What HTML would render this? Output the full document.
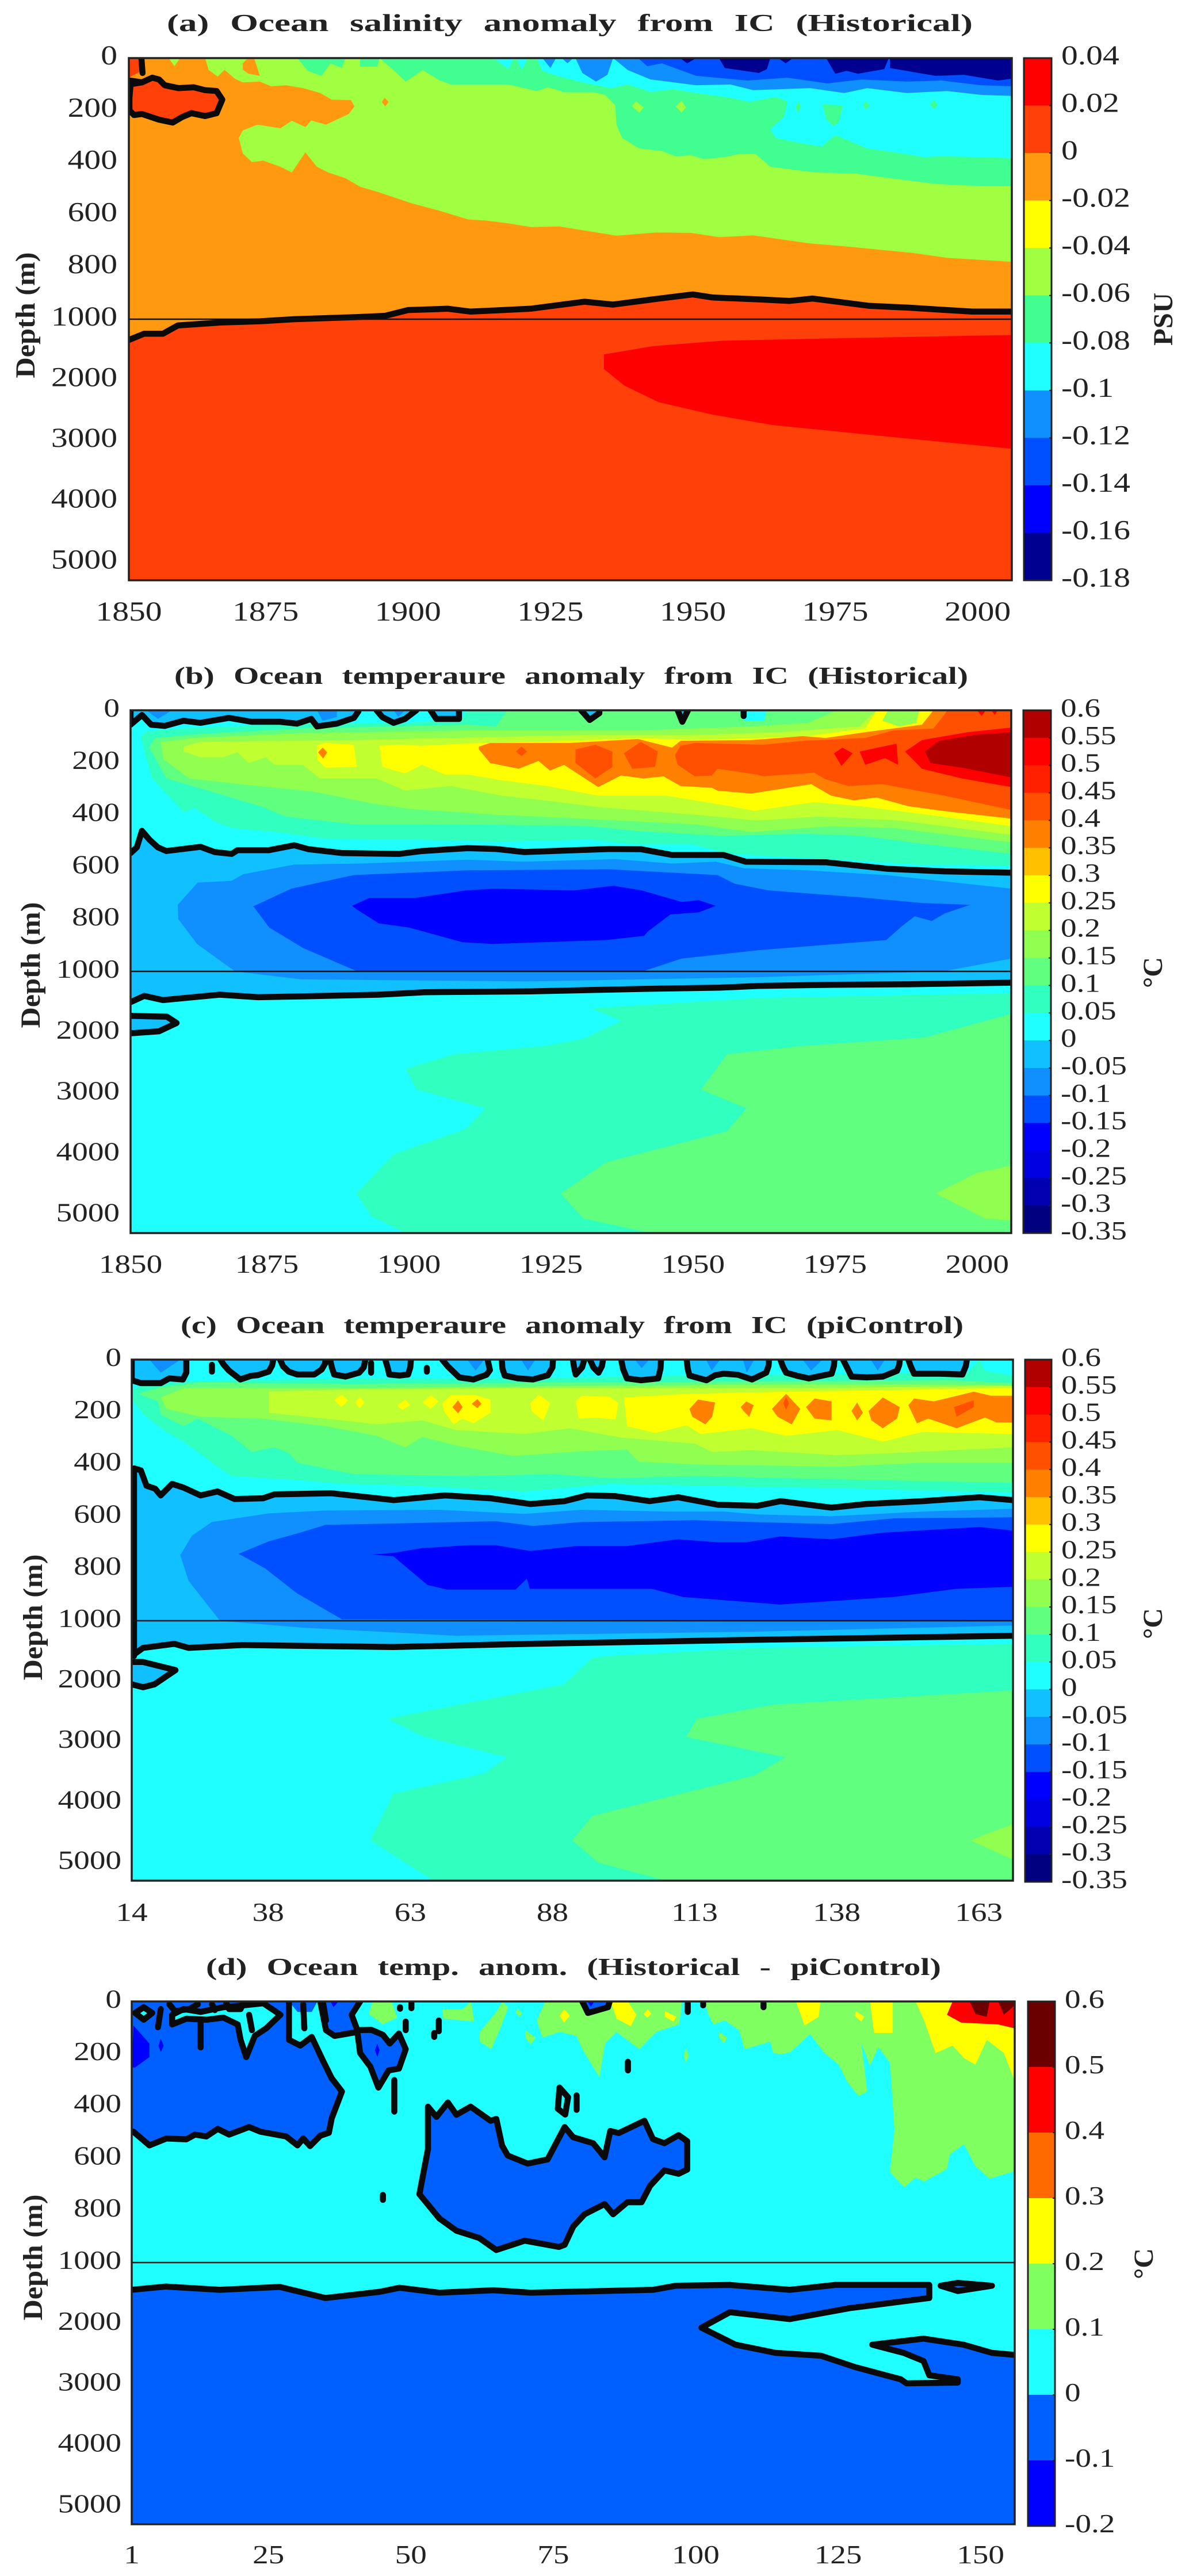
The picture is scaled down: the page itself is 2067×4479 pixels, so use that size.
<!DOCTYPE html>
<html lang="en">
<head>
<meta charset="utf-8">
<title>Ocean salinity and temperature anomaly panels</title>
<style>
html,body{margin:0;padding:0;background:#fff}
svg{display:block}
text{font-family:"Liberation Serif",serif;fill:#222}
.ttl{font-weight:bold;font-size:42px;word-spacing:14px}
.axt{font-weight:bold;font-size:48px}
</style>
</head>
<body>
<svg id="fig" xmlns="http://www.w3.org/2000/svg" width="2067" height="4479" viewBox="0 0 2067 4479">
<text class="ttl" x="290" y="54" textLength="1401" lengthAdjust="spacingAndGlyphs">(a) Ocean salinity anomaly from IC (Historical)</text>
<text class="ttl" x="303" y="1189" textLength="1380" lengthAdjust="spacingAndGlyphs">(b) Ocean temperaure anomaly from IC (Historical)</text>
<text class="ttl" x="314" y="2318" textLength="1361" lengthAdjust="spacingAndGlyphs">(c) Ocean temperaure anomaly from IC (piControl)</text>
<text class="ttl" x="358" y="3434" textLength="1278" lengthAdjust="spacingAndGlyphs">(d) Ocean temp. anom. (Historical - piControl)</text>
<text class="axt" transform="translate(60,548) rotate(-90)" text-anchor="middle" textLength="219" lengthAdjust="spacingAndGlyphs">Depth (m)</text>
<text class="axt" transform="translate(69,1678) rotate(-90)" text-anchor="middle" textLength="219" lengthAdjust="spacingAndGlyphs">Depth (m)</text>
<text class="axt" transform="translate(73,2812) rotate(-90)" text-anchor="middle" textLength="219" lengthAdjust="spacingAndGlyphs">Depth (m)</text>
<text class="axt" transform="translate(73,3925) rotate(-90)" text-anchor="middle" textLength="219" lengthAdjust="spacingAndGlyphs">Depth (m)</text>
<text class="axt" transform="translate(2038,555) rotate(-90)" text-anchor="middle" textLength="92" lengthAdjust="spacingAndGlyphs">PSU</text>
<text class="axt" transform="translate(2020,1691) rotate(-90)" text-anchor="middle">°C</text>
<text class="axt" transform="translate(2020,2823) rotate(-90)" text-anchor="middle">°C</text>
<text class="axt" transform="translate(2004,3936) rotate(-90)" text-anchor="middle">°C</text>
</svg>
<script>
/* ---------- axis tick data ---------- */
const indexTicks = [1,25,50,75,100,125,150];
const yearLabels = ["1850","1875","1900","1925","1950","1975","2000"];
const controlLabels = ["14","38","63","88","113","138","163"];
const diffLabels = ["1","25","50","75","100","125","150"];
const depthTicks = [0,200,400,600,800,1000,2000,3000,4000,5000];
const salinityLevels = [0.04,0.02,0,-0.02,-0.04,-0.06,-0.08,-0.1,-0.12,-0.14,-0.16,-0.18];
const tempLevels = [0.6,0.55,0.5,0.45,0.4,0.35,0.3,0.25,0.2,0.15,0.1,0.05,0,-0.05,-0.1,-0.15,-0.2,-0.25,-0.3,-0.35];
const diffLevels = [0.6,0.5,0.4,0.3,0.2,0.1,0,-0.1,-0.2];

/* ---------- panel (a) contour regions: flat lists of time index, depth (m) ---------- */
const aLime = [14.4,0,15,45,16.6,71,17.8,45,19.6,79,21,93,24,90,26,108,28.6,104,31.6,115,34.6,134,36.6,159,40,161,40.6,185,39.6,214,35.6,255,33,239,32,264,29.6,240,27.6,269,23.6,255,21,277,20.3,306,21,365,22.6,398,24.6,393,27.6,416,29.6,438,32,361,34,416,36,438,39,460,41.6,493,44.6,512,47.6,534,50.6,556,55.6,585,60.6,618,63.6,622,67.6,633,71.6,647,76.6,645,82.6,666,86.6,680,93.6,668,99.6,669,104.6,686,110.6,679,120.6,710,126.6,721,138.6,746,144.6,765,156,780,156,0];
const aLimeWedge = [8,0,9,31,10,0];
const aOrangeTop = [21,20,21,45,22,60,24,68,23,0,21.9,0];
const aOrangeDot = [45.9,152,46.6,168,46,185,45.4,168];
const aGreen = [30.6,0,32.4,49,34.8,68,36.4,20,38.4,38,39,0,41.6,0,41.6,33,44.6,33,45,0,47.6,49,49.6,90,52.6,46,55.6,86,57.6,101,67.6,101,72.6,126,74.6,112,77.6,131,82.6,131,84.6,141,86.4,181,86.6,255,87.6,306,90.6,346,94.6,356,97,376,99.6,372,102,387,105.6,379,108,368,111,367,113.6,416,121.6,438,128.6,442,134.6,460,142.6,482,150.6,490,156,490,156,0];
const aCyan = [72.6,0,73.6,49,76.6,71,80.6,93,85.6,115,88.6,101,92.6,130,96.6,119,100.6,134,106.6,152,110,168,114.6,148,116.6,167,116,225,113.6,273,114.6,306,118.6,324,122.6,339,125,295,130.6,346,135.6,361,140.6,379,143.6,376,150.6,379,156,383,156,0];
const aCyanA = [65,0,67.6,42,68.6,0];
const aCyanB = [69,0,70,46,71,0];
const aLightBlue = [79.4,0,80.6,57,83,90,85,64,86,0,88.6,46,92.6,82,95.6,90,100.6,104,106.6,101,110.6,123,120.6,115,126.6,134,130.6,115,137.6,134,144.6,126,150.6,141,156,145,156,0];
const aLightBlueA = [73.6,0,75,38,76,0];
const aLightBlueB = [77,0,78,20,79,0];
const aBlue = [90.4,0,92,31,94.6,20,100.6,68,109.6,86,116.6,75,123.6,97,129.6,82,137.6,90,143.6,86,150.6,104,156,108,156,0];
const aNavy1 = [97.8,0,99,20,100.6,0];
const aNavy2 = [104.6,0,105.6,38,111.6,57,113,42,113.6,0];
const aNavy3 = [115,0,116.3,20,117.6,0];
const aNavy4 = [123.4,0,125,60,127,49,129,60,133.6,42,134.4,0];
const aNavy5 = [134.6,0,134.6,38,142.6,68,147.6,64,153.6,86,156,79,156,0];
const aLimeSpot1 = [90,165,91.4,189,90.6,209,89.3,185];
const aLimeSpot2 = [98,163,98.8,189,98,209,97,185];
const aGreenSpot1 = [118.6,167,119,189,118.4,209,118,189];
const aGreenSpot2 = [122.8,178,126.4,181,125.6,247,124.6,261,123.4,233];
const aGreenSpot3 = [130.4,163,131,181,130.4,200,129.9,181];
const aGreenSpot4 = [142.3,159,143,178,142.3,196,141.6,178];
const aZeroLine = [1,1342,3.7,1239,7,1239,9.6,1103,17,1055,24,1034,30,1000,41,992,46,987,50,965,57,960,61,971,71.5,960,81,933,86,944,93,924,100,905,103.5,917,111.5,924,117,930,121,921,131,949,138,956,149,971,156,971];
const aDeepRed = [84.4,1581,93,1444,105,1355,125,1314,156,1260,156,3133,138,2968,114,2743,103.5,2572,94,2367,88,2094,84.4,1820];
const aBlob = [1.3,100,3.3,93,5.1,75,6.3,82,7.3,104,9.7,115,12.4,112,14.4,123,16.4,126,17.4,159,16.4,211,14.4,222,12,211,10.4,225,8.7,247,6.3,236,3.3,214,1.9,218,1.1,200,1.1,152];
const aCorner = [1,0,3,0,3.1,50,1,75];
const aStub = [3.2,0,3.4,57];
const aScribble = [1.1,86,3.3,93];

/* ---------- panel (b) ---------- */
const bUpperZero = [1,547,2.1,525,3,462,4.3,495,5.8,525,7.3,539,13.3,523,15.8,543,18.8,550,19.8,536,25.3,536,29.8,517,32.3,532,38.3,547,48.3,550,52.3,539,60.3,528,65.3,531,70.3,543,85.3,531,90.8,532,96.3,554,105.3,554,109.3,580,123.3,582,134.3,607,144.3,617,156,622];
const bLowerZero = [1,1506,3.4,1403,6.7,1472,16.7,1383,23.4,1424,31.4,1410,44.7,1383,52.7,1342,71.4,1328,91.4,1287,104.7,1267,111.4,1239,124.7,1219,138,1212,156,1185];
const bDeepLoop = [1,1731,7.4,1745,9.1,1848,6,1984,1,2018];
const bBand1090 = [9.3,745,12.8,660,18.8,653,20.8,628,29.8,591,41.3,587,60.3,572,70.3,580,86.3,570,96.3,587,104,580,109,605,120,613,134,631,156,683,156,951,144,1000,111,1096,71,1164,31,1130,19.4,1000,12.7,895,9.4,800];
const bBand0050 = [22.5,752,29.3,683,40.3,631,60.3,613,85.3,609,104.3,631,107.3,664,113.3,690,129.3,716,140.3,738,148.8,745,144.3,778,142,807,139,789,136.8,826,134,880,111.4,919,98,951,91.4,998,40.7,998,31.4,911,25.4,832,22.7,753];
const bBand0000 = [40,749,43,719,51,719,60,690,65,683,79,690,86,672,91,690,98,734,101,727,104,749,101,774,96,782,92,848,91.4,864,84.7,880,64.7,895,59.4,888,50,832,44.7,816,40.7,761];
const bSurface1 = [1,0,1,55,3,18,4.6,55,7,60,10.3,40,13.3,48,18.3,29,22.3,44,27.3,44,30.3,51,32.8,33,33.8,62,37.3,51,40.3,29,41.1,4,41.1,0];
const bSurface2 = [44.3,0,45.3,26,47.3,48,49.3,33,51.3,0];
const bSurface3 = [53.8,0,54.8,33,58.8,33,58.8,0];
const bSurface4 = [80.3,0,81.8,37,83.5,11,83.5,0];
const bSurface5 = [97.3,0,98.1,44,99.1,0];
const bStub = [108.9,0,108.9,22];
const bInner1 = [3.8,0,5.8,33,8.3,0];
const bInner2 = [33.8,0,34.8,40,37.3,26,37.3,0];
const bInner3 = [47.3,0,48.1,26,49.3,0];
const bBand30 = [2.8,99,3.8,81,10.3,70,30.3,51,50.3,48,59.3,33,60.3,0,156,0,156,595,139.8,591,125.8,572,112.8,558,105.8,547,99.8,514,89.8,514,81.8,495,65.8,503,50.3,495,35.3,492,26.3,466,18.8,451,15.8,426,12.3,374,10.3,389,4.8,261,3.8,187];
const bBand60 = [4.3,143,5.3,106,12.3,92,30.3,70,60.3,55,65.3,62,67.3,0,156,0,156,550,139.8,510,129.8,481,119.8,473,104.8,481,89.8,462,81.8,444,61.3,437,40.3,437,28.3,407,24.3,371,15.3,312,7.3,261];
const bBandLime = [6.8,187,6.3,121,12.3,106,30.3,88,60.3,77,90.3,77,110.3,62,120.3,48,125.3,0,156,0,156,506,135.3,451,124.3,444,110.3,466,100.3,437,80.3,415,65.3,400,50.3,378,43.3,356,33.3,312,20.3,283,11.3,261];
const bBandYG = [10.3,139,13.3,121,40.3,114,80.3,95,100.3,95,115.3,84,129.3,62,132.3,0,156,0,156,477,136.3,422,122.3,407,111.3,422,100.3,400,83.3,371,75.3,349,66.3,327,57.3,290,49.3,308,44.3,261,34.3,261,31.3,209,26.3,209,24.8,180,21.8,202,19.8,161,17.3,180,13.3,180,10.3,158];
const bPocket = [108,0,109,40,112.5,40,113,0];
const bYellow = [44.8,136,48.3,132,52.3,136,62.3,125,78.3,117,90.3,106,100.3,114,111.3,106,120.3,99,130.3,70,132.3,0,156,0,156,444,143.8,407,129.3,367,121.3,352,110.8,385,106.3,367,100.3,345,95.3,327,83.3,327,74.3,290,66.3,268,60.3,246,56.3,246,52.3,209,49.3,242,45.3,217];
const bYellowBlob = [33.8,136,35.3,125,40.3,132,40.8,217,35.3,220,33.8,187];
const bLimeHole = [134.3,0,133.3,40,136.3,62,139.3,48,139.8,0];
const bOrange = [62.3,139,64.3,125,78.3,125,90.3,110,96.3,143,97.8,117,110.3,114,119.3,99,123.3,106,130.3,84,140.3,55,142.3,0,156,0,156,415,143.8,385,137.8,367,132.3,334,128.3,345,124.3,327,120.8,283,110.3,319,104.3,308,103.3,297,97.8,290,94.8,253,91.3,261,87.3,250,83.3,294,77.3,209,74.8,231,72.8,194,69.3,224,64.3,202,62.3,150];
const bRedOrange = [96.8,172,97.8,136,100.3,125,112.3,132,119.3,117,130.3,106,135.3,77,142.3,70,144.8,0,156,0,156,382,144.3,327,133.3,283,127.3,290,123.3,264,121.3,239,112.3,253,111.3,246,104.3,224,103.3,250,100.3,253,97.3,209];
const bEddy1 = [82.8,132,85.8,158,85.8,217,82.8,261,79.3,202,79.3,150];
const bEddy2 = [90.8,121,93.8,158,93.3,217,89.3,224,87.8,165];
const bEddy3 = [69.8,139,70.8,158,69.8,176,68.8,158];
const bEddy4 = [34.8,143,35.6,161,34.9,185,34,161];
const bRed = [137.3,158,140.3,114,148.3,84,156,66,156,294,147.3,261,140.3,224];
const bRedBlob1 = [124.8,165,126.3,143,128.1,165,126.1,213];
const bRedBlob2 = [129.3,158,135.8,128,136.1,209,133.8,183,130.3,209];
const bRedTop1 = [150,0,150.8,22,151.5,0];
const bRedTop2 = [152.5,0,153.1,18,153.6,0];
const bDarkRed = [140.8,158,143.3,117,150.3,92,156,84,156,257,147.3,220,141.8,202];
const bLow30 = [82,1608,87.4,1813,80.7,2107,74,2223,58,2360,49.4,2599,51.4,2941,63.4,3249,60,3590,47.4,4000,40.7,4650,43.4,5026,49.4,5300,156,5300,156,1355,111.4,1437];
const bLow60 = [156,1697,140.7,2087,119.4,2223,106,2360,101.4,2941,109.4,3249,106,3625,84.7,4137,76.7,4650,80.7,5060,92.7,5300,156,5300];
const bLowLime = [156,4192,150,4308,142.7,4650,151.4,5060,156,5094];

/* ---------- panel (c) ---------- */
const cUpperZero = [1.5,417,2.6,424,3.6,483,5.1,494,6.1,520,8.1,476,10.1,490,13.1,520,16.1,505,19.1,534,24.1,531,26.1,516,36.1,512,47.1,538,56.1,520,64.1,531,71.1,553,77.1,542,81.1,520,86.1,523,92.1,542,97.1,527,104.1,556,111.1,560,115.1,542,124.1,567,130.1,553,140.1,542,150.1,527,156,538];
const cLowerZero = [1,1583,3,1449,8.5,1382,11,1449,20.5,1402,47,1436,71,1382,111,1315,156,1248];
const cLeftEdge = [1.4,417,1.4,1583];
const cDeepLoop = [1,1683,3,1683,8.7,1817,5,2052,3,2100,1,2052];
const cBand1090 = [9.6,747,11.6,674,15.1,622,25.1,589,35.1,578,55.1,575,70.1,591,80.1,575,95.1,582,105.1,582,111.1,593,124.1,600,140.1,582,156,571,156,1080,111,1181,58,1248,31,1114,18,1013,16.5,1000,11,847,9.5,746];
const cBand0050 = [19.8,744,25.1,696,30.1,666,35.1,633,50.1,626,65.1,619,71.6,637,80.1,622,90.1,619,100.1,615,110.1,622,124.1,630,135.1,608,156,604,156,1000,38,995,30,894,24.5,800,20,746];
const cBand0000 = [43.1,747,47.1,740,52.1,722,60.1,711,65.1,711,71.1,733,79.1,714,88.1,714,97.1,688,104.1,700,109.1,700,115.1,677,124.1,688,133.1,663,150.1,641,156,655,156,870,146,878,135,909,115,938,98,909,92.5,878,71,878,70.5,839,68.5,881,56.5,881,53,863,47,753,43,746];
const cBlob1 = [1,0,1,79,2.6,90,6.1,90,7.6,72,10,76,10.6,50,10.6,0];
const cBlob2 = [16.6,0,17.2,20,18.1,42,20.1,76,22,62,23.1,60,25.1,46,25.7,22,25.9,0];
const cBlob3 = [27.1,0,27.6,25,28.6,46,30.1,57,33.1,57,34.4,38,35,15,35.1,0];
const cBlob4 = [35.9,0,36.2,30,36.6,57,38.6,65,41,50,41.8,30,42.1,0];
const cBlob5 = [45.6,0,46,30,46.3,57,48.1,61,49.6,57,50,30,50.1,0];
const cBlob6 = [55.6,0,56.6,26,58.6,68,61.1,76,63.4,58,64,40,63.6,0];
const cBlob7 = [66.1,0,66.2,34,66.6,61,69,72,71.6,76,74.2,60,75,30,75.1,0];
const cBlob8 = [78.6,0,78.8,30,79.1,57,80.2,30,80.6,0];
const cBlob9 = [81.6,0,82.2,30,83.1,50,83.7,25,83.9,0];
const cBlob10 = [87.1,0,87.4,35,88.1,72,90.6,79,93.6,72,94,35,94.1,0];
const cBlob11 = [98.6,0,98.8,35,99.1,61,102.1,79,103.6,60,105.1,54,107.6,58,110.1,76,112.6,50,113,25,113.1,0];
const cBlob12 = [115.1,0,115.5,25,116.1,50,118,62,120.1,72,124.1,54,124.5,25,124.6,0];
const cBlob13 = [126.1,0,126.8,30,127.6,65,130.3,68,133.1,65,135.6,43,136,20,136.1,0];
const cBlob14 = [137.6,0,138,25,138.6,54,143.1,54,147.1,57,147.7,25,147.9,0];
const cDot1 = [15.1,20,15.1,46];
const cDot2 = [43.1,13,43.1,50];
const cDot3 = [52.9,32,52.9,46];
const cInner1 = [4.1,0,6.1,50,9.6,0];
const cInner2 = [60,0,61.5,42,63,0];
const cInner3 = [69.5,0,70.7,42,72,0];
const cInner4 = [89.5,0,90.7,33,92,0];
const cInner5 = [102,0,103,42,104.5,0];
const cInner6 = [108.5,0,109.2,50,110.5,0];
const cInner7 = [119,0,120.5,42,122.5,0];
const cInner8 = [131,0,132.2,42,133.5,0];
const cBand30 = [1.1,116,3.1,98,10.1,83,20.1,79,40.1,72,70.1,72,100.1,61,120.1,57,148.1,50,150.1,0,151.1,43,156,61,156,509,120.1,490,100.1,483,85.1,476,70.1,505,50.1,483,38.1,476,30.1,461,18.6,446,16.1,410,10.1,314,7.1,277,3.1,211,1.3,160];
const cBand60 = [2.1,131,6.1,105,13.1,87,40.1,94,80.1,87,120.1,83,145.1,79,156,90,156,472,130.1,461,100.1,446,85.1,454,75.1,439,60.1,446,40.1,439,30.1,395,28.6,358,26.1,336,22.1,354,18.6,292,12.6,226,10.1,255,6.1,211,5.6,160];
const cBandLime = [6.1,145,10.1,109,40.1,109,80.1,101,120.1,94,156,98,156,395,140.1,395,125.1,410,101.1,402,90.1,391,88.1,344,80.1,351,68.1,369,58.1,329,52.1,296,49.1,336,44.1,292,35.1,255,24.1,226,13.1,219,7.1,189];
const cBandYG = [25.1,123,35.1,116,70.1,109,100.1,109,120.1,109,156,101,156,336,135.1,358,125.1,366,110.1,347,103.1,354,100.1,322,87.1,299,78.1,263,70.1,285,58.1,270,52.1,233,44.1,248,35.1,226,25.1,204];
const cYellow = [87.6,145,96.1,134,106.1,127,156,109,156,285,140.1,277,133.1,314,125.1,270,116.1,292,110.1,263,101.1,285,98.6,252,93.1,281,88.1,255];
const cYellow1 = [36.6,156,37.9,134,39.1,156,37.9,182];
const cYellow2 = [40.3,164,41.1,142,41.9,164,41.1,186];
const cYellow3 = [47.7,175,49.1,153,50,175,48.6,193];
const cYellow4 = [52.1,164,53.6,137,55,160,53.6,188];
const cYellow5 = [55.6,167,57.1,137,61.1,134,64.1,153,64.1,204,61.1,244,59.1,226,57.6,248,55.9,197];
const cYellow6 = [71.1,167,72.6,134,74.6,167,73.4,233,71.3,197];
const cYellow7 = [79.1,160,80.1,138,85.1,142,86.6,167,86.1,230,82.6,222,79.6,226];
const cOrange1 = [57.4,182,58.4,156,59.2,182,58.4,206];
const cOrange2 = [60.8,169,61.8,151,62.5,169,61.8,186];
const cOrange3 = [99.1,189,100.6,153,103.6,164,103.1,219,101.9,248,99.6,219];
const cOrange4 = [108.1,182,109.1,160,110.4,175,109.6,219,108.6,197];
const cOrange5 = [113.6,189,116.1,131,118.6,189,117.1,248,114.6,219];
const cOrange6 = [119.6,182,121.1,149,124.1,160,124.1,233,121.1,226];
const cOrange7 = [127.6,197,128.6,164,129.6,204,128.6,233];
const cOrange8 = [130.6,197,133.1,145,136.1,182,135.6,226,133.1,263,131.1,233];
const cOrange9 = [137.6,175,138.6,149,142.1,160,149.1,123,152.1,138,156,138,156,241,153.1,241,151.1,222,146.1,263,141.1,226,139.1,244];
const cHot1 = [115.6,167,116.1,145,116.6,167,116.1,193];
const cHot2 = [145.6,182,149.1,156,149.1,182,146.1,219];
const cLow30 = [82,1616,77,2052,60.5,2353,46,2621,52.5,2923,67,3258,63,3526,47,3861,43,4631,54,5300,156,5300,156,1382,111,1449,84.5,1583];
const cLow60 = [156,2152,114,2387,100.5,2621,98.5,2923,116,3258,110.5,3559,82,4229,78.5,4631,83,5000,95,5300,156,5300];
const cLowLime = [156,4363,148.5,4631,156,4953];

/* ---------- panel (d) ---------- */
const dLime1 = [73.6,0,72.1,73,73.1,139,76.1,117,79.1,132,80.1,183,83.1,290,84.1,161,86.1,117,90.1,183,93.1,117,97.1,88,97.6,0];
const dLime2 = [101.6,0,102.1,44,103.1,88,105.1,73,107.6,110,108.6,183,113.1,154,113.6,198,115.1,202,116.6,195,120.1,125,122.6,198,125.1,242,126.6,308,128.6,363,130.1,345,129.1,161,130.6,246,132.1,176,134.1,235,134.9,492,134.1,653,136.6,712,138.6,675,140.1,690,144.1,642,144.6,587,147.1,547,149.1,631,151.6,679,156,650,156,0];
const dLimeA = [43.3,0,42.6,48,45.1,88,47.6,62,46.6,0];
const dLimeB = [55.6,29,55.6,66,61.1,77,60.6,0,59.1,29];
const dLimeC = [65.1,37,66.1,0,67.1,22,65.6,110,64.1,183,62.1,154,62.1,117];
const dLimeD = [70.1,110,71.9,139,71.1,165,70.1,139];
const dLimeE = [104.1,117,105.6,139,104.9,161,104.1,136];
const dLimeF = [68.6,29,69.6,44,69.1,59,68.4,44];
const dLimeG = [98.3,180,98.8,205,98.3,235,97.9,205];
const dYellow1 = [85.1,0,86.1,66,88.6,95,89.6,51,88.1,0];
const dYellow2 = [91.6,29,92.2,48,91.5,62,90.8,48];
const dYellow3 = [94.6,37,96.6,59,96.1,77,94.6,59];
const dYellow4 = [76.9,29,77.9,55,76.9,81,76.1,55];
const dYellow5 = [117.6,0,119.1,92,121.6,59,121.9,0];
const dYellow6 = [128.1,37,129.6,59,129.1,77,127.9,55];
const dYellow7 = [130.6,0,131.3,121,134.6,121,134.6,0];
const dYellow8 = [138.6,0,140.1,73,142.1,198,145.1,169,147.1,217,149.1,242,151.1,147,154.1,198,156,305,156,0];
const dRed = [145.1,0,144.1,51,146.6,81,153.1,88,156,103,156,0];
const dDark1 = [148.1,0,149.1,48,151.1,59,151.6,0];
const dDark2 = [153.1,0,154.1,51,156,15,156,0];
const dCoolA = [1,0,28.6,0,28.6,51,28.6,147,30.6,169,32.6,136,34.6,228,36.1,294,37.9,345,36.1,448,35.6,503,34.1,514,32.3,554,31.1,525,30.1,551,28.1,517,23.6,499,21.6,481,18.1,510,16.1,488,14.1,517,12.1,510,10.6,528,7.1,525,4.1,551,1.3,499,1,499];
const dHoleA = [20.6,15,24.1,7,27.1,51,24.6,103,22.6,132,21.1,213,20.1,147,19.6,88,17.1,62,14.1,70,10.6,66,8.1,88,8.1,51,10.1,29,13.1,40,17.1,22];
const dHoleB = [3.1,22,4.6,44,3.1,70,1.6,44];
const dCoolB = [34.1,0,41.1,0,39.6,51,40.6,110,43.1,109,45.1,128,46.3,161,47.9,123,49.1,183,47.9,257,46.1,264,44.3,330,42.9,250,41.1,198,40.6,117,36.6,132,35.1,110];
const dCoolC = [53,403,54.5,442,56.5,387,58,434,60.5,403,64,457,65,450,66,551,67,590,70.5,621,74,605,77,481,78.5,520,82,543,84,597,85,496,86.5,504,91,457,92.5,527,94.5,543,97,512,98.5,535,98.5,644,97,660,94.5,647,92,706,90.5,769,88,769,85.5,815,84,776,80.5,815,78.5,862,77,932,76,940,70,916,65,952,62,906,58,878,55,831,51.5,738,53,566];
const dCoolTop = [80.1,0,81.1,44,84.6,22,84.9,0];
const dCoolTop2 = [28.6,0,30.1,40,32.6,40,33.6,0];
const dCoolDeep = [1,1448,7,1394,16.5,1448,27,1401,35,1582,44.5,1481,48,1414,55,1495,64.5,1455,71,1495,92.5,1448,96.5,1381,106,1368,116.5,1448,124.5,1368,141,1368,141,1582,127,1749,116.5,1929,106,1816,101,2070,107,2350,114,2484,122,2531,128,2718,136,2918,137,2985,146,2972,146,2918,141,2852,140,2618,136.5,2484,131,2350,140,2250,147,2350,152,2484,156,2517];
const dCoolSmall = [143,1381,146,1334,152,1381,146,1468];
const dBlue1 = [1.3,92,4.1,161,4.1,213,1.6,253,1,253];
const dBlue2 = [6.1,143,6.6,169,6.1,195,5.7,169];
const dBlue3 = [35.9,0,36.4,22,37.3,0];
const dBlue4 = [44.1,161,44.5,187,44.1,213,43.7,187];
const dBlue5 = [81,0,81.6,20,82.2,0];
const dLine1 = [13.1,73,13.1,176];
const dLine2 = [6.1,29,5.6,99];
const dLine3 = [47.1,301,47.1,422];
const dNet1 = [7.6,11,8.6,37,11.1,29,12.6,11];
const dNet2 = [17.6,7,18.1,29,20.1,29,20.6,7];
const dNet3 = [21.6,51,22.1,110];
const dNet4 = [31.1,11,31.3,103];
const dNet5 = [34.6,7,35.1,73];
const dNet6 = [15.1,11,15.6,33];
const dMark1 = [88.1,231,88.1,264];
const dMark2 = [76.1,330,77.6,367,77.1,433,75.8,411,76.1,330];
const dMark3 = [79.1,360,79.1,415];
const dMark4 = [45.1,741,45.1,760];
const dMark5 = [48.1,22,48.1,28];
const dMark6 = [50.1,7,50.1,26];
const dMark7 = [49.1,77,49.1,110];
const dMark8 = [54.9,73,54.9,114];
const dMark9 = [54.1,121,54.1,136];
const dMark10 = [98.6,7,98.6,40];
const dMark11 = [101.3,7,101.3,15];
const dMark12 = [111.9,7,111.9,22];

/* ---------- palettes (one colour per interval between adjacent levels) ---------- */
const salinityPalette = ["#ff0000","#ff4008","#ff9a10","#ffff00","#9fff40","#40ff90","#20ffff","#1090ff","#0050ff","#0000ff","#000090"];
const tempPalette = ["#b00000","#ff0000","#ff2000","#ff5000","#ff8000","#ffc000","#ffff00","#c0ff30","#90ff50","#60ff80","#30ffc0","#20ffff","#10c0ff","#1090ff","#0050ff","#0000ff","#0000e0","#0000b0","#000080"];
const diffPalette = ["#6a0000","#ff0000","#ff6a00","#ffff00","#80ff60","#20ffff","#0060ff","#0000ff"];

/* ---------- helpers ---------- */
const NS = "http://www.w3.org/2000/svg";
const fig = document.getElementById("fig");
function svgEl(tag){ return document.createElementNS(NS, tag); }

function makePanel(id, left, right, top, mid, bottom, barLeft, barRight, barBottom, levels, palette){
  const g = svgEl("g");
  
  
  fig.appendChild(g);
  const clip = svgEl("clipPath");
  clip.setAttribute("id", "clip-" + id);
  const cr = svgEl("rect");
  cr.setAttribute("x", left); cr.setAttribute("y", top);
  cr.setAttribute("width", right - left); cr.setAttribute("height", bottom - top);
  clip.appendChild(cr);
  g.appendChild(clip);
  const plot = svgEl("g");
  plot.setAttribute("clip-path", "url(#clip-" + id + ")");
  
  
  g.appendChild(plot);
  return {
    id, g, plot, left, right, top, mid, bottom, barLeft, barRight, barBottom, levels, palette,
    x: i => left + (i - 1) / 155 * (right - left),
    y: d => d <= 1000 ? top + d / 1000 * (mid - top) : mid + (d - 1000) / 4300 * (bottom - mid)
  };
}
function bandColor(p, v){
  for (let k = 0; k < p.levels.length - 1; k++) {
    if (v <= p.levels[k] && v > p.levels[k + 1]) return p.palette[k];
  }
  return p.palette[p.palette.length - 1];
}
function pathFrom(p, pts, closed){
  let s = "";
  for (let k = 0; k < pts.length; k += 2) {
    s += (k ? "L" : "M") + p.x(pts[k]).toFixed(1) + " " + p.y(pts[k + 1]).toFixed(1);
  }
  return s + (closed ? "Z" : "");
}
function region(p, pts, value, name){
  const el = svgEl("path");
  el.setAttribute("d", pathFrom(p, pts, true));
  el.setAttribute("fill", bandColor(p, value));
  
  
  p.plot.appendChild(el);
}
function contour(p, pts, closed, name){
  const el = svgEl("path");
  el.setAttribute("d", pathFrom(p, pts, closed));
  el.setAttribute("fill", "none");
  el.setAttribute("stroke", "#0a0a0a");
  el.setAttribute("stroke-width", "10.5");
  el.setAttribute("stroke-linejoin", "round");
  el.setAttribute("stroke-linecap", "round");
  
  
  p.plot.appendChild(el);
}
function reversedPairs(pts){
  const out = [];
  for (let k = pts.length - 2; k >= 0; k -= 2) out.push(pts[k], pts[k + 1]);
  return out;
}
function baseFill(p, value){
  const el = svgEl("rect");
  el.setAttribute("x", p.left); el.setAttribute("y", p.top);
  el.setAttribute("width", p.right - p.left); el.setAttribute("height", p.bottom - p.top);
  el.setAttribute("fill", bandColor(p, value));
  
  
  p.plot.appendChild(el);
}
function addLabel(parent, x, y, str, anchor, fs, sx, name){
  const t = svgEl("text");
  t.setAttribute("transform", "translate(" + x + "," + y + ") scale(" + sx + ",1)");
  t.setAttribute("text-anchor", anchor);
  t.setAttribute("font-size", fs);
  
  
  t.textContent = str;
  parent.appendChild(t);
}
function finishPanel(p, xLabels, yTickRight, xLabelBase, fs, sx){
  const axisLine = svgEl("line");
  axisLine.setAttribute("x1", p.left); axisLine.setAttribute("x2", p.right);
  axisLine.setAttribute("y1", p.y(1000)); axisLine.setAttribute("y2", p.y(1000));
  axisLine.setAttribute("stroke", "#111"); axisLine.setAttribute("stroke-width", "2.5");
  
  
  p.g.appendChild(axisLine);
  const frame = svgEl("rect");
  frame.setAttribute("x", p.left); frame.setAttribute("y", p.top);
  frame.setAttribute("width", p.right - p.left); frame.setAttribute("height", p.bottom - p.top);
  frame.setAttribute("fill", "none"); frame.setAttribute("stroke", "#222"); frame.setAttribute("stroke-width", "3.5");
  
  
  p.g.appendChild(frame);
  indexTicks.forEach((t, k) => {
    addLabel(p.g, p.x(t), xLabelBase, xLabels[k], "middle", fs, sx, "x-tick-label");
  });
  depthTicks.forEach(d => {
    addLabel(p.g, yTickRight, p.y(d) + 11, String(d), "end", fs, sx, "y-tick-label");
  });
  const barH = (p.barBottom - p.top) / (p.levels.length - 1);
  p.palette.forEach((c, k) => {
    const r = svgEl("rect");
    r.setAttribute("x", p.barLeft); r.setAttribute("y", p.top + k * barH);
    r.setAttribute("width", p.barRight - p.barLeft); r.setAttribute("height", barH + 0.5);
    r.setAttribute("fill", c);
    
    
    p.g.appendChild(r);
  });
  const barFrame = svgEl("rect");
  barFrame.setAttribute("x", p.barLeft); barFrame.setAttribute("y", p.top);
  barFrame.setAttribute("width", p.barRight - p.barLeft); barFrame.setAttribute("height", p.barBottom - p.top);
  barFrame.setAttribute("fill", "none"); barFrame.setAttribute("stroke", "#222"); barFrame.setAttribute("stroke-width", "3");
  
  
  p.g.appendChild(barFrame);
  p.levels.forEach((v, k) => {
    const yy = p.top + k * barH;
    const tick = svgEl("line");
    tick.setAttribute("x1", p.barRight - 4); tick.setAttribute("x2", p.barRight);
    tick.setAttribute("y1", yy); tick.setAttribute("y2", yy);
    tick.setAttribute("stroke", "#222"); tick.setAttribute("stroke-width", "2");
    
    
    p.g.appendChild(tick);
    addLabel(p.g, p.barRight + 17, yy + 11, String(v), "start", fs, sx, "colorbar-tick-label");
  });
}

/* ---------- panel (a) ---------- */
const pa = makePanel("a", 224, 1759, 101, 555, 1009, 1780, 1828, 1009, salinityLevels, salinityPalette);
baseFill(pa, -0.01);
region(pa, aLime, -0.05, "lime-band-region");
region(pa, aLimeWedge, -0.05, "lime-surface-wedge");
region(pa, aOrangeTop, -0.01, "orange-surface-patch");
region(pa, aOrangeDot, -0.01, "orange-spot");
region(pa, aGreen, -0.07, "green-band-region");
region(pa, aCyan, -0.09, "cyan-band-region");
region(pa, aCyanA, -0.09, "cyan-surface-wedge");
region(pa, aCyanB, -0.09, "cyan-surface-wedge");
region(pa, aLimeSpot1, -0.05, "lime-spot");
region(pa, aLimeSpot2, -0.05, "lime-spot");
region(pa, aGreenSpot1, -0.07, "green-spot");
region(pa, aGreenSpot2, -0.07, "green-spot");
region(pa, aGreenSpot3, -0.07, "green-spot");
region(pa, aGreenSpot4, -0.07, "green-spot");
region(pa, aLightBlue, -0.11, "light-blue-band-region");
region(pa, aLightBlueA, -0.11, "light-blue-surface-wedge");
region(pa, aLightBlueB, -0.11, "light-blue-surface-wedge");
region(pa, aBlue, -0.13, "blue-band-region");
[aNavy1, aNavy2, aNavy3, aNavy4, aNavy5].forEach(n => region(pa, n, -0.17, "navy-surface-region"));
region(pa, aZeroLine.concat([156,5300,1,5300]), 0.01, "positive-salinity-deep-region");
region(pa, aDeepRed, 0.03, "red-deep-region");
region(pa, aBlob, 0.01, "positive-salinity-subsurface-blob");
region(pa, aCorner, 0.01, "positive-salinity-corner");
contour(pa, aZeroLine, false, "zero-contour-deep");
contour(pa, aBlob, true, "zero-contour-blob");
contour(pa, aStub, false, "zero-contour-surface-stub");
contour(pa, aScribble, false, "zero-contour-surface-scribble");
finishPanel(pa, yearLabels, 204, 1079, 48, 1.2);

/* ---------- panel (b) ---------- */
const pb = makePanel("b", 227, 1758, 1235, 1689, 2144, 1779, 1827, 2144, tempLevels, tempPalette);
baseFill(pb, 0.025);
region(pb, bLow30, 0.075, "deep-warm-band-1");
region(pb, bLow60, 0.125, "deep-warm-band-2");
region(pb, bLowLime, 0.175, "deep-warm-band-3");
region(pb, bBand30, 0.075, "band-0.05-0.1");
region(pb, bBand60, 0.125, "band-0.1-0.15");
region(pb, bBandLime, 0.175, "band-0.15-0.2");
region(pb, bBandYG, 0.225, "band-0.2-0.25");
region(pb, bPocket, 0.025, "cyan-surface-pocket");
region(pb, bYellow, 0.275, "band-0.25-0.3");
region(pb, bYellowBlob, 0.275, "yellow-blob");
region(pb, bLimeHole, 0.175, "lime-surface-hole");
region(pb, bOrange, 0.375, "band-0.35-0.4");
region(pb, bEddy1, 0.425, "warm-eddy");
region(pb, bEddy2, 0.425, "warm-eddy");
region(pb, bEddy3, 0.425, "warm-eddy");
region(pb, bEddy4, 0.375, "warm-eddy");
region(pb, bRedOrange, 0.425, "band-0.4-0.45");
region(pb, bRedBlob1, 0.525, "hot-eddy");
region(pb, bRedBlob2, 0.525, "hot-eddy");
region(pb, bRedTop1, 0.525, "hot-surface-spot");
region(pb, bRedTop2, 0.525, "hot-surface-spot");
region(pb, bRed, 0.525, "band-0.5-0.55");
region(pb, bDarkRed, 0.575, "band-0.55-0.6");
region(pb, bUpperZero.concat(reversedPairs(bLowerZero)), -0.025, "cool-band-0-neg0.05");
region(pb, bBand1090, -0.075, "cool-band-neg0.05-neg0.1");
region(pb, bBand0050, -0.125, "cool-band-neg0.1-neg0.15");
region(pb, bBand0000, -0.175, "cool-band-neg0.15-neg0.2");
region(pb, bDeepLoop, -0.025, "cool-deep-loop");
[bSurface1, bSurface2, bSurface3, bSurface4, bSurface5].forEach(s => region(pb, s, -0.025, "cool-surface-patch"));
[bInner1, bInner2, bInner3].forEach(s => region(pb, s, -0.075, "cool-surface-core"));
contour(pb, bUpperZero, false, "zero-contour-upper");
contour(pb, bLowerZero, false, "zero-contour-lower");
contour(pb, bDeepLoop, false, "zero-contour-deep-loop");
[bSurface1, bSurface2, bSurface3, bSurface4, bSurface5].forEach(s => contour(pb, s, false, "zero-contour-surface"));
contour(pb, bStub, false, "zero-contour-surface-stub");
finishPanel(pb, yearLabels, 208, 2213, 46, 1.2);

/* ---------- panel (c) ---------- */
const pc = makePanel("c", 229, 1761, 2364, 2818, 3270, 1782, 1828, 3272, tempLevels, tempPalette);
baseFill(pc, 0.025);
region(pc, cLow30, 0.075, "deep-warm-band-1");
region(pc, cLow60, 0.125, "deep-warm-band-2");
region(pc, cLowLime, 0.175, "deep-warm-band-3");
region(pc, cBand30, 0.075, "band-0.05-0.1");
region(pc, cBand60, 0.125, "band-0.1-0.15");
region(pc, cBandLime, 0.175, "band-0.15-0.2");
region(pc, cBandYG, 0.225, "band-0.2-0.25");
region(pc, cYellow, 0.275, "band-0.25-0.3");
[cYellow1, cYellow2, cYellow3, cYellow4, cYellow5, cYellow6, cYellow7].forEach(s => region(pc, s, 0.275, "yellow-eddy"));
[cOrange1, cOrange2, cOrange3, cOrange4, cOrange5, cOrange6, cOrange7, cOrange8, cOrange9].forEach(s => region(pc, s, 0.375, "orange-eddy"));
[cHot1, cHot2].forEach(s => region(pc, s, 0.425, "hot-eddy"));
region(pc, cUpperZero.concat(reversedPairs(cLowerZero)), -0.025, "cool-band-0-neg0.05");
region(pc, [1,417,1.5,417,1.5,1583,1,1583], -0.025, "cool-left-edge");
region(pc, cBand1090, -0.075, "cool-band-neg0.05-neg0.1");
region(pc, cBand0050, -0.125, "cool-band-neg0.1-neg0.15");
region(pc, cBand0000, -0.175, "cool-band-neg0.15-neg0.2");
region(pc, cDeepLoop, -0.025, "cool-deep-loop");
const cBlobs = [cBlob1, cBlob2, cBlob3, cBlob4, cBlob5, cBlob6, cBlob7, cBlob8, cBlob9, cBlob10, cBlob11, cBlob12, cBlob13, cBlob14];
cBlobs.forEach(s => region(pc, s, -0.025, "cool-surface-patch"));
[cInner1, cInner2, cInner3, cInner4, cInner5, cInner6, cInner7, cInner8].forEach(s => region(pc, s, -0.075, "cool-surface-core"));
contour(pc, cUpperZero, false, "zero-contour-upper");
contour(pc, cLowerZero, false, "zero-contour-lower");
contour(pc, cLeftEdge, false, "zero-contour-left-edge");
contour(pc, cDeepLoop, false, "zero-contour-deep-loop");
cBlobs.forEach(s => contour(pc, s, false, "zero-contour-surface"));
[cDot1, cDot2, cDot3].forEach(s => contour(pc, s, false, "zero-contour-speck"));
finishPanel(pc, controlLabels, 211, 3340, 46, 1.2);

/* ---------- panel (d) ---------- */
const pd = makePanel("d", 229, 1764, 3480, 3934, 4389, 1787, 1834, 4392, diffLevels, diffPalette);
baseFill(pd, 0.05);
region(pd, dLime1, 0.15, "lime-drip-region");
region(pd, dLime2, 0.15, "lime-warming-region");
[dLimeA, dLimeB, dLimeC, dLimeD, dLimeE, dLimeF, dLimeG].forEach(s => region(pd, s, 0.15, "lime-patch"));
[dYellow1, dYellow2, dYellow3, dYellow4, dYellow5, dYellow6, dYellow7, dYellow8].forEach(s => region(pd, s, 0.25, "yellow-patch"));
region(pd, dRed, 0.45, "red-surface-region");
region(pd, dDark1, 0.55, "dark-red-surface-region");
region(pd, dDark2, 0.55, "dark-red-surface-region");
region(pd, dCoolA, -0.05, "cool-upper-left-region");
region(pd, dCoolTop2, -0.05, "cool-surface-patch");
region(pd, dCoolB, -0.05, "cool-upper-mid-region");
region(pd, dCoolC, -0.05, "cool-central-region");
region(pd, dCoolTop, -0.05, "cool-surface-patch");
region(pd, dCoolDeep.concat([156,5300,1,5300]), -0.05, "cool-deep-region");
region(pd, dCoolSmall, -0.05, "cool-small-patch");
region(pd, dHoleA, 0.05, "warm-hole");
region(pd, dHoleB, 0.05, "warm-hole");
[dBlue1, dBlue2, dBlue3, dBlue4, dBlue5].forEach(s => region(pd, s, -0.15, "deep-blue-patch"));
contour(pd, dCoolA.slice(2), false, "zero-contour-upper-left");
contour(pd, dCoolB.slice(2).concat(dCoolB.slice(0, 2)), false, "zero-contour-upper-mid");
contour(pd, dCoolC, true, "zero-contour-central");
contour(pd, dCoolDeep, false, "zero-contour-deep");
contour(pd, dCoolSmall, true, "zero-contour-small");
contour(pd, dCoolTop, false, "zero-contour-surface");
contour(pd, dHoleA, true, "zero-contour-hole");
contour(pd, dHoleB, true, "zero-contour-hole");
[dLine1, dLine2, dLine3, dNet1, dNet2, dNet3, dNet4, dNet5, dNet6, dMark1, dMark2, dMark3, dMark4, dMark5, dMark6, dMark7, dMark8, dMark9, dMark10, dMark11, dMark12].forEach(s => contour(pd, s, false, "zero-contour-speck"));
finishPanel(pd, diffLabels, 211, 4457, 46, 1.2);
</script>
</body>
</html>
